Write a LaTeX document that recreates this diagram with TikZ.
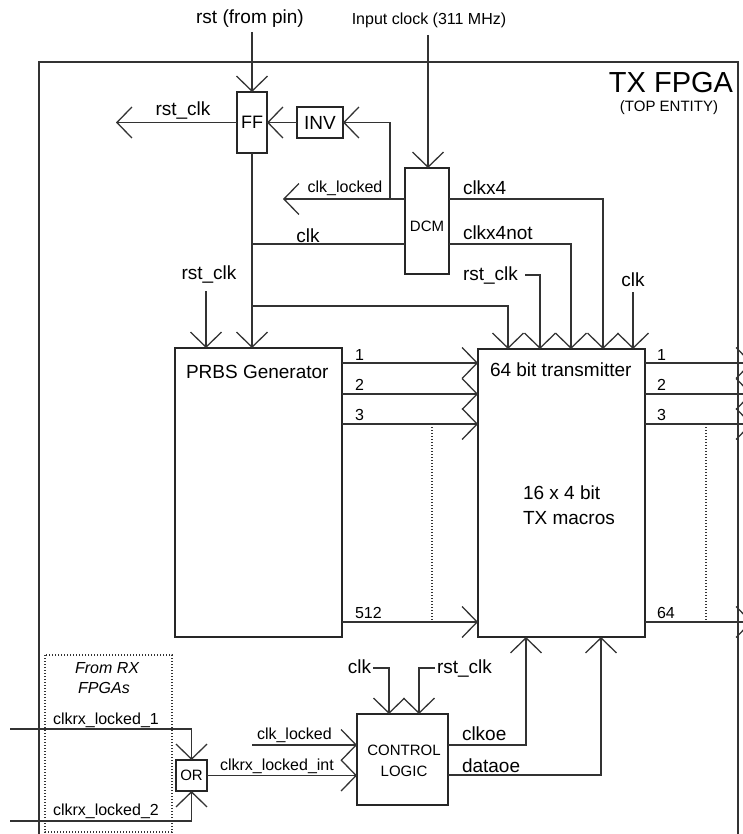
\documentclass[tikz,border=0pt]{standalone}
\usepackage{fontspec}
\setmainfont{Liberation Sans}
\usetikzlibrary{arrows.meta}
\begin{document}
\begin{tikzpicture}[x=1pt,y=-1pt,
  every node/.style={inner sep=0pt, outer sep=0pt},
  wire/.style={draw=black!80, line width=1.3pt},
  arr/.style={wire, -{Straight Barb[length=15pt,width=31pt]}},
  box/.style={draw=black!85, line width=1.5pt, fill=white},
  frameln/.style={draw=black!80, line width=1.8pt},
  dotln/.style={draw=black!80, line width=1.1pt, dash pattern=on 1.2pt off 1.8pt},
  big/.style={font=\fontsize{19}{22}\selectfont},
  small/.style={font=\fontsize{16}{19}\selectfont},
  boxtxt/.style={font=\fontsize{15}{21}\selectfont},
]
\useasboundingbox (0,0) rectangle (743,834);
% frame
\draw[frameln] (39,834) -- (39,62) -- (738,62) -- (738,834);
\draw[dotln] (45,655) rectangle (172,832);

% boxes
\node[box, minimum width=30pt, minimum height=61pt, font=\fontsize{18}{20}\selectfont] (ff) at (252,122.5) {FF};
\node[box, minimum width=46pt, minimum height=31pt, big] (inv) at (320,122.5) {INV};
\node[box, minimum width=44pt, minimum height=106pt, boxtxt] (dcm) at (427,221) {};
\node[boxtxt] (dcmlbl) at (427,226) {DCM};
\node[box, minimum width=167pt, minimum height=289pt] (prbs) at (258.5,492.5) {};
\node[box, minimum width=167pt, minimum height=288pt] (tx) at (561.5,493) {};
\node[box, minimum width=91pt, minimum height=91pt] (cl) at (402.5,759.5) {};
\node[boxtxt, align=center] (cllbl) at (404,761) {CONTROL\\LOGIC};
\node[box, minimum width=31pt, minimum height=31pt, boxtxt] (or) at (191.5,775.5) {OR};

% coordinates for free ends
\coordinate (rp) at (252,32);
\coordinate (ro) at (116,122.5);
\coordinate (ic) at (428,35);
\coordinate (cklout) at (283,199);
\coordinate (j1) at (390,199);
\coordinate (j2) at (252,244);
\coordinate (j3) at (252,306);
\coordinate (rc1) at (525,275);
\coordinate (ck1) at (633,292);
\coordinate (rc2) at (206,291);
\coordinate (c1) at (373,668);
\coordinate (c2) at (435,668);
\coordinate (c3) at (252,745);
\coordinate (r1) at (10,729);
\coordinate (r2) at (10,821);

% top connectors
\draw[arr] (rp) -- (ff.north);
\draw[arr] (ff.west) -- (ro);
\draw[arr] (inv.west) -- (ff.east);
\draw[arr] (ic) -- (ic |- dcm.north);
\draw[arr] ([yshift=22pt]dcm.west) -- (cklout);
\draw[arr] (j1) -- (j1 |- inv.east) -- (inv.east);
\draw[wire] ([yshift=-23pt]dcm.west) -- (j2);
\draw[arr] (ff.south) -- (ff.south |- prbs.north);
\draw[arr] (j3) -| ([xshift=-53.5pt]tx.north);
\draw[arr] ([yshift=22pt]dcm.east) -| ([xshift=41.5pt]tx.north);
\draw[arr] ([yshift=-23pt]dcm.east) -| ([xshift=9.5pt]tx.north);
\draw[arr] (rc1) -| ([xshift=-21.5pt]tx.north);
\draw[arr] (ck1) -- (ck1 |- tx.north);
\draw[arr] (rc2) -- (rc2 |- prbs.north);

% bus lines
\foreach \yy in {363,394,424,622} {
  \draw[arr] (prbs.east |- 0,\yy) -- (tx.west |- 0,\yy);
  \draw[arr] (tx.east |- 0,\yy) -- (752,\yy);
}
\draw[dotln] (432,424) -- (432,622);
\draw[dotln] (706,424) -- (706,622);

% control logic
\draw[arr] (c1) -| ([xshift=-13.5pt]cl.north);
\draw[arr] (c2) -| ([xshift=16.5pt]cl.north);
\draw[arr] ([yshift=14.5pt]cl.east) -| ([xshift=-35.5pt]tx.south);
\draw[arr] ([yshift=-15.5pt]cl.east) -| ([xshift=39.5pt]tx.south);
\draw[arr] (c3) -- (c3 -| cl.west);
\draw[arr] (or.east) -- (or.east -| cl.west);
\draw[arr] (r1) -| (or.north);
\draw[arr] (r2) -| (or.south);

% texts
\node[big, anchor=base] (t1) at (250,24) {rst (from pin)};
\node[small, anchor=base] (t2) at (429,25) {Input clock (311 MHz)};
\node[font=\fontsize{29}{30}\selectfont, anchor=base east] (t3) at (733,93) {TX FPGA};
\node[font=\fontsize{15}{16}\selectfont, anchor=base] (t4) at (669,112) {(TOP ENTITY)};
\node[big, anchor=base] (t5) at (183,116) {rst\_clk};
\node[small, anchor=base] (t6) at (345,193) {clk\_locked};
\node[big, anchor=base] (t7) at (308,242) {clk};
\node[big, anchor=base west] (t8) at (463,195) {clkx4};
\node[big, anchor=base west] (t9) at (463,239) {clkx4not};
\node[big, anchor=base west] (t10) at (463,280) {rst\_clk};
\node[big, anchor=base] (t11) at (633,286) {clk};
\node[big, anchor=base] (t12) at (209,279) {rst\_clk};
\node[big, anchor=base west] (t13) at (186,378) {PRBS Generator};
\node[big, anchor=base west] (t14) at (490,376) {64 bit transmitter};
\node[big, anchor=base west] (t15) at (523,499) {16 x 4 bit};
\node[big, anchor=base west] (t16) at (523,524) {TX macros};
\node[small, anchor=base west] (n1) at (355,360) {1};
\node[small, anchor=base west] (n2) at (355,390) {2};
\node[small, anchor=base west] (n3) at (355,420) {3};
\node[small, anchor=base west] (n4) at (355,618) {512};
\node[small, anchor=base west] (m1) at (657,360) {1};
\node[small, anchor=base west] (m2) at (657,390) {2};
\node[small, anchor=base west] (m3) at (657,420) {3};
\node[small, anchor=base west] (m4) at (657,618) {64};
\node[big, anchor=base east] (t17) at (371,673) {clk};
\node[big, anchor=base west] (t18) at (437,673) {rst\_clk};
\node[big, anchor=base west] (t19) at (462,740) {clkoe};
\node[big, anchor=base west] (t20) at (462,772) {dataoe};
\node[small, anchor=base west] (t21) at (257,739) {clk\_locked};
\node[small, anchor=base west] (t22) at (220,770) {clkrx\_locked\_int};
\node[small, anchor=base west] (t23) at (53,724) {clkrx\_locked\_1};
\node[small, anchor=base west] (t24) at (53,815) {clkrx\_locked\_2};
\node[small, anchor=base, font=\fontsize{16}{19}\selectfont\itshape] (t25) at (107,673) {From RX};
\node[small, anchor=base, font=\fontsize{16}{19}\selectfont\itshape] (t26) at (104,693) {FPGAs};
\end{tikzpicture}
\end{document}
